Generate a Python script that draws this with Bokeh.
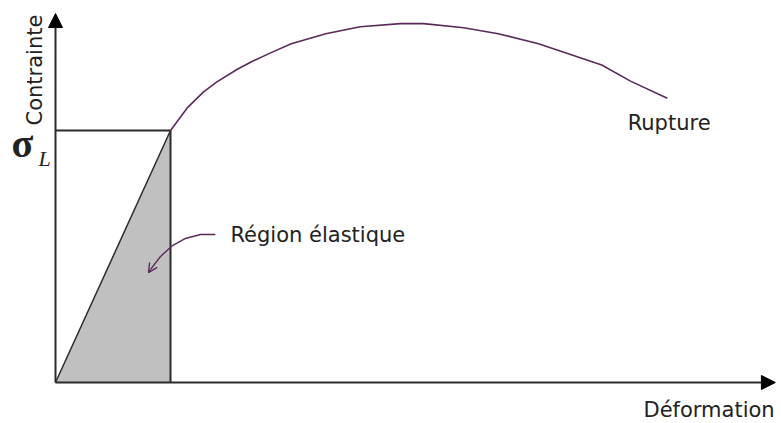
import math
from bokeh.plotting import figure
from bokeh.models import Range1d, Arrow, NormalHead, OpenHead, Label
from bokeh.embed import file_html
from bokeh.resources import INLINE

# Stress-strain diagram (arbitrary units)
elastic_strain = [0.0, 0.20, 0.20]      # triangle under the elastic line
elastic_stress = [0.0, 250.0, 0.0]
yield_strain = 0.20                      # end of the elastic region
yield_stress = 250.0                     # sigma_L

# plastic part of the curve, up to rupture
curve_strain = [0.20, 0.23, 0.257, 0.28, 0.317, 0.34, 0.374, 0.41, 0.47, 0.53, 0.60,
                0.64, 0.71, 0.77, 0.84, 0.95, 1.00, 1.064]
curve_stress = [250, 273, 288, 298, 311, 318, 327, 336, 346, 353, 356,
                356, 352, 346, 336, 315, 299, 282]

strain_axis_end = 1.252
stress_axis_end = 366.0

# pointer from the "Région élastique" label into the shaded area
pointer_x = [0.278, 0.252, 0.226, 0.2035, 0.1826, 0.1650]
pointer_y = [146.8, 146.8, 142.9, 135.9, 125.0, 112.0]
pointer_tip = (0.1617, 109.1)

INK = "#2b2b2b"
PURPLE = "#5b2a5b"
FONT = "DejaVu Sans"

p = figure(width=781, height=423, output_backend="svg", toolbar_location=None,
           x_range=Range1d(-55 / 575, 726 / 575),
           y_range=Range1d(-41 / 1.008, 382 / 1.008),
           x_axis_type=None, y_axis_type=None, min_border=0)
p.grid.visible = False
p.outline_line_color = None
p.background_fill_color = "white"

# shaded elastic region
p.patch(elastic_strain, elastic_stress, fill_color="#c0c0c0", line_color=None)
p.line(elastic_strain[:2], elastic_stress[:2], line_color=INK, line_width=1.5)

# box at the elastic limit
p.line([0, yield_strain], [yield_stress, yield_stress], line_color=INK, line_width=2)
p.line([yield_strain, yield_strain], [yield_stress, 0], line_color=INK, line_width=2)

# plastic curve
p.line(curve_strain, curve_stress, line_color=PURPLE, line_width=1.6)

# axes as arrows
p.add_layout(Arrow(end=NormalHead(size=14, fill_color="black", line_color="black"),
                   x_start=0, y_start=0, x_end=strain_axis_end, y_end=0,
                   line_color=INK, line_width=2))
p.add_layout(Arrow(end=NormalHead(size=14, fill_color="black", line_color="black"),
                   x_start=0, y_start=0, x_end=0, y_end=stress_axis_end,
                   line_color=INK, line_width=2))

# pointer
p.line(pointer_x, pointer_y, line_color=PURPLE, line_width=1.4)
p.add_layout(Arrow(end=OpenHead(size=9, line_color=PURPLE, line_width=1.4),
                   x_start=pointer_x[-1], y_start=pointer_y[-1],
                   x_end=pointer_tip[0], y_end=pointer_tip[1],
                   line_color=PURPLE, line_width=1.4))

def label(x, y, text, size="21px", font=FONT, style="normal", angle=0.0):
    p.add_layout(Label(x=x, y=y, text=text, text_font=font, text_font_size=size,
                       text_font_style=style, text_color="#222222",
                       text_baseline="alphabetic", text_align="left", angle=angle))

label(0.995, 257, "Rupture")
label(0.3043, 146, "Région élastique")
label(1.0226, -27, "Déformation")
label(-0.036, 255, "Contrainte", angle=math.pi / 2)
label(-0.0765, 237, "σ", size="40px", font="Liberation Serif", style="bold")
label(-0.0296, 222, "L", size="22px", font="Liberation Serif", style="italic")

open("out.html", "w").write(file_html(p, INLINE))
